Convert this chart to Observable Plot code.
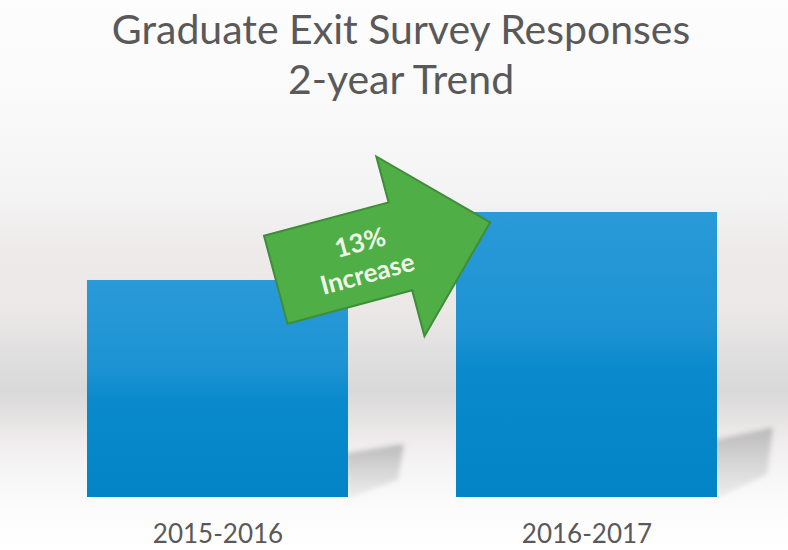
<!DOCTYPE html>
<html>
<head>
<meta charset="utf-8">
<script src="https://cdn.jsdelivr.net/npm/d3@7"></script>
<script src="https://cdn.jsdelivr.net/npm/@observablehq/plot@0.6"></script>
<style>
  html, body { margin: 0; padding: 0; }
  #wrap {
    width: 788px; height: 550px; position: relative; overflow: hidden;
    background: linear-gradient(to bottom,
      #fdfdfd 0px, #f9f9f9 120px, #f3f3f3 200px, #eeeaea 250px, #ece8e8 310px,
      #e1e0e0 350px, #d9d9d9 390px, #e3e1e1 415px, #eeeaeb 435px,
      #f6f5f5 470px, #fcfcfc 510px, #ffffff 550px);
  }
  #title {
    box-sizing: border-box; height: 115px; padding-top: 4px; padding-left: 14px;
    text-align: center; font-family: Lato, "Open Sans", sans-serif;
    color: #595959; font-size: 41px; line-height: 50px;
  }
  #chart { position: absolute; left: 0; top: 115px; }
</style>
</head>
<body>
<div id="wrap">
  <div id="title">Graduate Exit Survey Responses<br>2-year Trend</div>
  <div id="chart"></div>
</div>
<script>
// Data
const periods = ["2015-2016", "2016-2017"];
const values = [100, 113];          // indexed responses (13% increase)
const yBase = 58.5;                 // truncated value-axis minimum
const changeLabel = ["13%", "Increase"];

const data = periods.map((p, i) => ({period: p, value: values[i]}));

const plot = Plot.plot({
  width: 788,
  height: 435,
  marginLeft: 87,
  marginRight: 71,
  marginTop: 20,
  marginBottom: 53,
  style: {background: "transparent", fontFamily: "Lato, 'Open Sans', sans-serif", overflow: "visible"},
  x: {domain: periods, paddingInner: 0.293, paddingOuter: 0, axis: null},
  y: {domain: [yBase, d3.max(values)], range: [382, 97], axis: null},
  marks: [
    Plot.barY(data, {x: "period", y1: yBase, y2: "value", fill: "url(#barGrad)"}),
    Plot.axisX({tickSize: 0, tickPadding: 27, fontSize: 26, color: "#595959", label: null})
  ]
});
document.getElementById("chart").appendChild(plot);

const svg = d3.select(plot);
const xs = plot.scale("x");
const ys = plot.scale("y");
const bw = xs.bandwidth;

// defs: gradients + blur
const defs = svg.insert("defs", ":first-child");
const bg = defs.append("linearGradient").attr("id", "barGrad")
  .attr("x1", 0).attr("y1", 0).attr("x2", 0).attr("y2", 1);
[["0%", "#2a9ad8"], ["40%", "#1d93d3"], ["55%", "#0a8acd"], ["100%", "#0284c6"]]
  .forEach(([o, c]) => bg.append("stop").attr("offset", o).attr("stop-color", c));
const sg = defs.append("linearGradient").attr("id", "shadowGrad")
  .attr("x1", 0).attr("y1", 0).attr("x2", 0).attr("y2", 1);
sg.append("stop").attr("offset", "0%").attr("stop-color", "#b4b4b4").attr("stop-opacity", 0.9);
sg.append("stop").attr("offset", "100%").attr("stop-color", "#d8d8d8").attr("stop-opacity", 0.4);
defs.append("filter").attr("id", "blur").attr("x", "-30%").attr("y", "-30%").attr("width", "160%").attr("height", "160%")
  .append("feGaussianBlur").attr("stdDeviation", 2.5);

// bar shadows (derived from scales)
const shadowG = svg.insert("g", "g[aria-label=bar]").attr("filter", "url(#blur)");
data.forEach(d => {
  const right = xs.apply(d.period) + bw;
  const bottom = ys.apply(yBase);
  const h = bottom - ys.apply(d.value);
  const pts = [
    [right - 4, bottom - 0.2 * h],
    [right + 56, bottom - 0.245 * h],
    [right + 50, bottom - 0.08 * h],
    [right, bottom + 1]
  ];
  shadowG.append("polygon").attr("points", pts.map(p => p.join(",")).join(" "))
    .attr("fill", "url(#shadowGrad)");
});

// annotation arrow between bars
const x1end = xs.apply(periods[0]) + bw;
const x2start = xs.apply(periods[1]);
const cx = (x1end + x2start) / 2 - 19;
const cy = (ys.apply(values[0]) + ys.apply(values[1])) / 2 + 5;
const arrow = svg.append("g").attr("transform", `translate(${cx},${cy}) rotate(-15)`);
const L = 111, shaftEnd = 18, sw = 45.5, hw = 93;
arrow.append("path")
  .attr("d", `M${-L},${-sw} L${shaftEnd},${-sw} L${shaftEnd},${-hw} L${L},0 L${shaftEnd},${hw} L${shaftEnd},${sw} L${-L},${sw} Z`)
  .attr("fill", "#4fae46").attr("stroke", "#3e8e38").attr("stroke-width", 2).attr("stroke-linejoin", "miter");
arrow.append("text").attr("x", -20).attr("y", -15).text(changeLabel[0]);
arrow.append("text").attr("x", -21).attr("y", 17).text(changeLabel[1]);
arrow.selectAll("text")
  .attr("text-anchor", "middle").attr("dominant-baseline", "central")
  .attr("fill", "#eef7e8").attr("font-family", "Lato, 'Open Sans', sans-serif")
  .attr("font-weight", "bold").attr("font-size", 26);
</script>
</body>
</html>
